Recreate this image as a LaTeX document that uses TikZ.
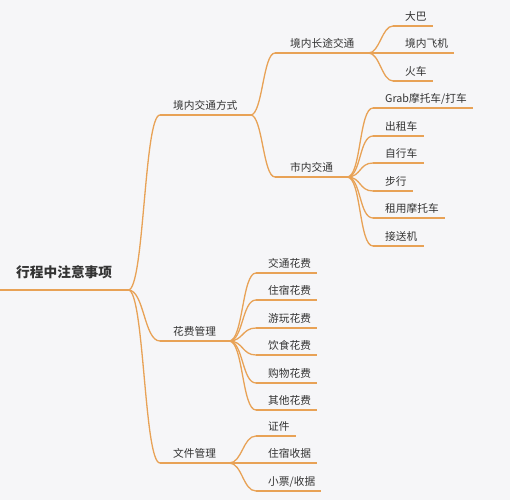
\documentclass[tikz,border=0pt]{standalone}
\usepackage{fontspec}
\setmainfont{Noto Sans CJK SC}
\definecolor{bgc}{HTML}{F6F6F8}
\definecolor{linec}{HTML}{E8A256}
\definecolor{txtc}{HTML}{333333}
\newcommand\brc[3]{\draw[conn] (#1.south east) .. controls +(#3,0) and +(-#3,0) .. (#2.south west);}
\begin{document}
\begin{tikzpicture}[x=1pt,y=-1pt,
  every node/.style={inner xsep=0pt, inner ysep=3.5pt, text height=8pt, text depth=2pt,
    text=txtc, font=\fontsize{10.7}{12}\selectfont, anchor=south west},
  conn/.style={draw=linec, line width=1.3pt},
  rootnode/.style={inner ysep=10pt, text height=11pt, font=\fontsize{13.7}{16}\selectfont\bfseries,
    execute at begin node={\hspace*{16pt}}, execute at end node={\hspace*{16pt}}},
  lvone/.style={execute at begin node={\hspace*{13pt}}, execute at end node={\hspace*{13pt}}},
  lvtwo/.style={execute at begin node={\hspace*{15pt}}, execute at end node={\hspace*{14pt}}},
  leaf/.style={execute at begin node={\hspace*{12pt}}, execute at end node={\hspace*{6pt}}},
]
\fill[bgc] (0,0) rectangle (510,500);
\useasboundingbox (0,0) rectangle (510,500);

\node[rootnode] (root) at (0,290) {行程中注意事项};

\node[lvone] (jn) at (160,115) {境内交通方式};
\node[lvone] (hf) at (160,341) {花费管理};
\node[lvone] (wj) at (160,463) {文件管理};

\node[lvtwo] (ct) at (275,53) {境内长途交通};
\node[lvtwo] (sn) at (275,177) {市内交通};

\node[leaf] (a1) at (393,26) {大巴};
\node[leaf] (a2) at (393,53) {境内飞机};
\node[leaf] (a3) at (393,81) {火车};

\node[leaf] (b1) at (373,108) {Grab摩托车/打车};
\node[leaf] (b2) at (373,136) {出租车};
\node[leaf] (b3) at (373,163) {自行车};
\node[leaf] (b4) at (373,191) {步行};
\node[leaf] (b5) at (373,218) {租用摩托车};
\node[leaf] (b6) at (373,246) {接送机};

\node[leaf] (c1) at (256,273) {交通花费};
\node[leaf] (c2) at (256,300) {住宿花费};
\node[leaf] (c3) at (256,328) {游玩花费};
\node[leaf] (c4) at (256,355) {饮食花费};
\node[leaf] (c5) at (256,383) {购物花费};
\node[leaf] (c6) at (256,410) {其他花费};

\node[leaf] (d1) at (256,436) {证件};
\node[leaf] (d2) at (256,463) {住宿收据};
\node[leaf] (d3) at (256,491) {小票/收据};

\foreach \n in {root,jn,hf,wj,ct,sn,a1,a2,a3,b1,b2,b3,b4,b5,b6,c1,c2,c3,c4,c5,c6,d1,d2,d3}
  \draw[conn] (\n.south west) -- (\n.south east);

\brc{root}{jn}{16}
\brc{root}{hf}{16}
\brc{root}{wj}{16}
\brc{jn}{ct}{12}
\brc{jn}{sn}{12}
\foreach \n in {a1,a2,a3} {\brc{ct}{\n}{11}}
\foreach \n in {b1,b2,b3,b4,b5,b6} {\brc{sn}{\n}{14}}
\foreach \n in {c1,c2,c3,c4,c5,c6} {\brc{hf}{\n}{14}}
\foreach \n in {d1,d2,d3} {\brc{wj}{\n}{13}}
\end{tikzpicture}
\end{document}
